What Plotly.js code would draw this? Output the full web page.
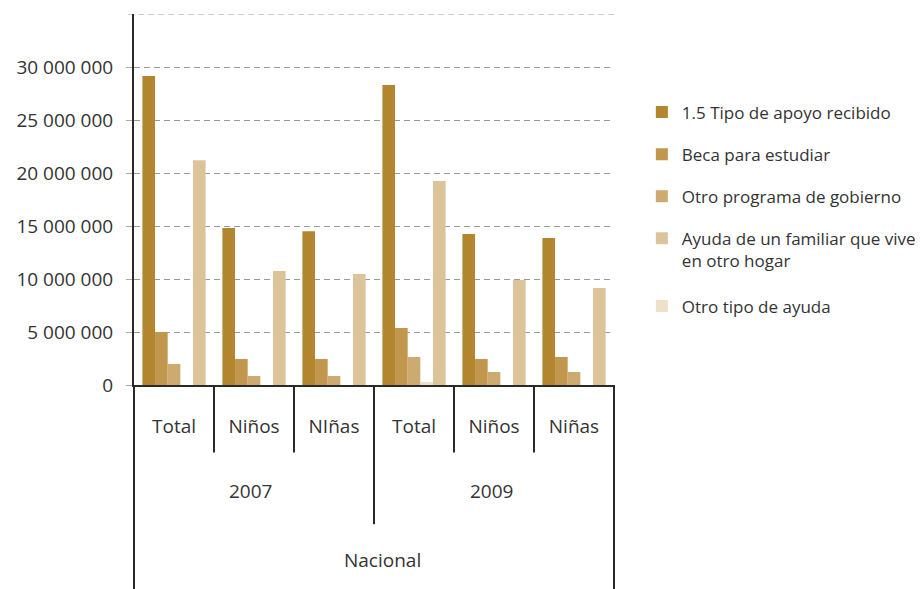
<!DOCTYPE html>
<html>
<head>
<meta charset="utf-8">
<script src="https://cdn.plot.ly/plotly-3.0.1.min.js"></script>
<style>html,body{margin:0;padding:0;background:#fff;}#chart{width:921px;height:589px;}</style>
</head>
<body>
<div id="chart"></div>
<script>
var years = ['2007', '2007', '2007', '2009', '2009', '2009'];
var groups = ['Total', 'Niños', 'NIñas', 'Total', 'Niños', 'Niñas'];
var topLevel = 'Nacional';
var tipoApoyo = [29150000, 14800000, 14500000, 28300000, 14250000, 13870000];
var beca = [5000000, 2450000, 2450000, 5380000, 2450000, 2640000];
var otroPrograma = [1980000, 850000, 850000, 2640000, 1230000, 1230000];
var otroTipo = [0, 0, 0, 280000, 0, 0];
var ayudaFamiliar = [21200000, 10750000, 10470000, 19250000, 9900000, 9150000];
var seriesNames = ['1.5 Tipo de apoyo recibido', 'Beca para estudiar', 'Otro programa de gobierno', 'Otro tipo de ayuda', 'Ayuda de un familiar que vive<br>en otro hogar'];
var yTickVals = [0, 5000000, 10000000, 15000000, 20000000, 25000000, 30000000];
var yTickText = ['0', '5 000 000', '10 000 000', '15 000 000', '20 000 000', '25 000 000', '30 000 000'];
var yMax = 35000000;

var keys = years.map(function (y, i) { return y + ' ' + groups[i]; });
var colors = ['#B3852E', '#C0974D', '#CDAA70', '#EDE1C9', '#DCC49A'];
var ranks = [1, 2, 3, 5, 4];
var legendIds = ['legend', 'legend', 'legend', 'legend2', 'legend'];
var values = [tipoApoyo, beca, otroPrograma, otroTipo, ayudaFamiliar];

var traces = values.map(function (v, i) {
  return {
    type: 'bar', x: keys, y: v, name: seriesNames[i],
    marker: {color: colors[i], line: {width: 0}},
    legendrank: ranks[i], legendgroup: 'g' + i, legend: legendIds[i],
    hoverinfo: 'x+y+name'
  };
});

var font = {family: 'Open Sans, sans-serif', color: '#333'};
var lineCol = '#2a2a2a';

var shapes = [];
shapes.push({type: 'line', xref: 'paper', yref: 'y', x0: -0.012, x1: 1, y0: yMax, y1: yMax,
  line: {color: '#9a9a9a', width: 1, dash: '6px,4px'}, layer: 'below'});
function vline(xv, xref, y0) {
  shapes.push({type: 'line', xref: xref, yref: 'paper', x0: xv, x1: xv, y0: 0, y1: y0,
    line: {color: lineCol, width: 2}, layer: 'above'});
}
vline(0, 'paper', -0.56);
vline(1, 'paper', -0.56);
[0.5, 1.5, 3.5, 4.5].forEach(function (b) { vline(b, 'x', -0.182); });
vline(2.5, 'x', -0.375);

var annFont = {family: font.family, color: '#333', size: 19};
var annotations = [
  {x: 0.95, xref: 'x', y: -0.286, yref: 'paper', text: years[0], showarrow: false, font: annFont, yanchor: 'middle'},
  {x: 3.97, xref: 'x', y: -0.286, yref: 'paper', text: years[3], showarrow: false, font: annFont, yanchor: 'middle'},
  {x: 0.517, xref: 'paper', y: -0.472, yref: 'paper', text: topLevel, showarrow: false, font: annFont, yanchor: 'middle'}
];

var legFont = {family: font.family, size: 17, color: '#333'};
var layout = {
  width: 921, height: 589,
  margin: {l: 134, r: 307, t: 14, b: 204, autoexpand: false},
  paper_bgcolor: '#fff', plot_bgcolor: '#fff',
  font: font,
  barmode: 'group', bargap: 0.21, bargroupgap: 0,
  showlegend: true,
  legend: {x: 1.058, xanchor: 'left', y: 0.783, yanchor: 'top', font: legFont,
    tracegroupgap: 17, valign: 'top', itemwidth: 30, bgcolor: 'rgba(0,0,0,0)'},
  legend2: {x: 1.058, xanchor: 'left', y: 0.260, yanchor: 'top', font: legFont,
    valign: 'top', itemwidth: 30, bgcolor: 'rgba(0,0,0,0)'},
  xaxis: {type: 'category', tickvals: keys, ticktext: groups, showline: true, linecolor: lineCol, linewidth: 2,
    ticks: '', showgrid: false, tickfont: {size: 19, color: '#333'}, ticklabelstandoff: 23, fixedrange: true},
  yaxis: {range: [0, yMax], tickvals: yTickVals, ticktext: yTickText, showline: true, linecolor: lineCol, linewidth: 2,
    ticks: 'outside', ticklen: 6, tickcolor: '#aaa', tickwidth: 1,
    showgrid: true, gridcolor: '#9a9a9a', griddash: '6px,4px', gridwidth: 1, zeroline: false,
    tickfont: {size: 19, color: '#333'}, ticklabelstandoff: 9, fixedrange: true},
  shapes: shapes,
  annotations: annotations
};

Plotly.newPlot('chart', traces, layout, {displayModeBar: false, staticPlot: true});
</script>
</body>
</html>
